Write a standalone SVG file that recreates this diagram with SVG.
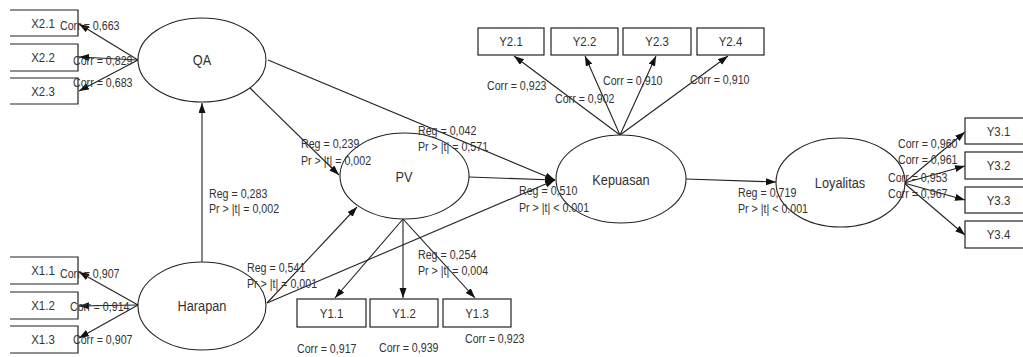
<svg xmlns="http://www.w3.org/2000/svg" width="1023" height="357" viewBox="0 0 1023 357">
<style>
.bx{fill:#fff;stroke:#222;stroke-width:1.2}
.el{fill:#fff;stroke:#222;stroke-width:1.1}
.ln{stroke:#222;stroke-width:1.1;fill:none;marker-end:url(#ah)}
text{font-family:"Liberation Sans",Arial,sans-serif;fill:#333;transform-box:fill-box}
.t{font-size:13px;transform-origin:0% 50%;transform:scaleX(0.82)}
.bt{font-size:13px;text-anchor:middle;transform-origin:50% 50%;transform:scaleX(0.88)}
.et{font-size:15px;text-anchor:middle;transform-origin:50% 50%;transform:scaleX(0.85)}
</style>
<defs>
<marker id="ah" markerUnits="userSpaceOnUse" markerWidth="11" markerHeight="8" refX="10" refY="3.5" orient="auto">
<path d="M0,0 L10,3.5 L0,7 z" fill="#111"/>
</marker>
</defs>
<rect width="1023" height="357" fill="#fff"/>
<g id="connectors">
<line class="ln" x1="138" y1="60" x2="79" y2="24"/>
<line class="ln" x1="138" y1="60" x2="79" y2="57"/>
<line class="ln" x1="138" y1="60" x2="79" y2="91"/>
<line class="ln" x1="138" y1="305" x2="79" y2="272"/>
<line class="ln" x1="138" y1="305" x2="79" y2="306"/>
<line class="ln" x1="138" y1="305" x2="79" y2="338"/>
<line class="ln" x1="202" y1="262" x2="202" y2="103"/>
<line class="ln" x1="250" y1="88" x2="339" y2="175"/>
<line class="ln" x1="268" y1="60" x2="555" y2="180"/>
<line class="ln" x1="267" y1="303" x2="357" y2="207"/>
<line class="ln" x1="267" y1="303" x2="555" y2="180"/>
<line class="ln" x1="469" y1="177" x2="555" y2="180"/>
<line class="ln" x1="403" y1="219" x2="335" y2="298"/>
<line class="ln" x1="403" y1="219" x2="403" y2="298"/>
<line class="ln" x1="403" y1="219" x2="475" y2="298"/>
<line class="ln" x1="620" y1="135" x2="514" y2="56"/>
<line class="ln" x1="620" y1="135" x2="585" y2="56"/>
<line class="ln" x1="620" y1="135" x2="656" y2="56"/>
<line class="ln" x1="620" y1="135" x2="728" y2="56"/>
<line class="ln" x1="686" y1="179" x2="776" y2="182"/>
<line class="ln" x1="904" y1="183" x2="965" y2="132"/>
<line class="ln" x1="904" y1="183" x2="965" y2="166"/>
<line class="ln" x1="904" y1="183" x2="965" y2="200"/>
<line class="ln" x1="904" y1="183" x2="965" y2="235"/>
</g>
<g id="X2.1"><path class="bx" d="M10,10 H78 V36 H10"/><text class="bt" x="43" y="28">X2.1</text></g>
<g id="X2.2"><path class="bx" d="M10,44 H78 V71 H10"/><text class="bt" x="43" y="62">X2.2</text></g>
<g id="X2.3"><path class="bx" d="M10,78 H78 V104 H10"/><text class="bt" x="43" y="96">X2.3</text></g>
<g id="X1.1"><path class="bx" d="M10,257 H78 V284 H10"/><text class="bt" x="43" y="275">X1.1</text></g>
<g id="X1.2"><path class="bx" d="M10,292 H78 V319 H10"/><text class="bt" x="43" y="310">X1.2</text></g>
<g id="X1.3"><path class="bx" d="M10,326 H78 V353 H10"/><text class="bt" x="43" y="344">X1.3</text></g>
<g id="QA"><ellipse class="el" cx="202" cy="60" rx="64" ry="42"/><text class="et" x="202" y="65">QA</text></g>
<g id="Harapan"><ellipse class="el" cx="202" cy="306" rx="64" ry="44"/><text class="et" x="202" y="311">Harapan</text></g>
<g id="PV"><ellipse class="el" cx="404.5" cy="176" rx="64.5" ry="43"/><text class="et" x="404" y="182">PV</text></g>
<g id="Kepuasan"><ellipse class="el" cx="621" cy="179" rx="65" ry="44"/><text class="et" x="621" y="185">Kepuasan</text></g>
<g id="Loyalitas"><ellipse class="el" cx="840.5" cy="182.5" rx="64.5" ry="44.5"/><text class="et" x="840" y="188">Loyalitas</text></g>
<g id="Y1.1"><rect class="bx" x="297" y="299" width="69" height="28"/><text class="bt" x="331.5" y="318">Y1.1</text></g>
<g id="Y1.2"><rect class="bx" x="370" y="299" width="68" height="28"/><text class="bt" x="404" y="318">Y1.2</text></g>
<g id="Y1.3"><rect class="bx" x="443" y="299" width="68" height="28"/><text class="bt" x="477" y="318">Y1.3</text></g>
<g id="Y2.1"><rect class="bx" x="478" y="28" width="66" height="27"/><text class="bt" x="511" y="46">Y2.1</text></g>
<g id="Y2.2"><rect class="bx" x="551" y="28" width="67" height="27"/><text class="bt" x="584.5" y="46">Y2.2</text></g>
<g id="Y2.3"><rect class="bx" x="623" y="28" width="68" height="27"/><text class="bt" x="657" y="46">Y2.3</text></g>
<g id="Y2.4"><rect class="bx" x="697" y="28" width="67" height="27"/><text class="bt" x="730.5" y="46">Y2.4</text></g>
<g id="Y3.1"><rect class="bx" x="965" y="118" width="67" height="26"/><text class="bt" x="998.5" y="136">Y3.1</text></g>
<g id="Y3.2"><rect class="bx" x="965" y="152" width="67" height="27"/><text class="bt" x="998.5" y="170">Y3.2</text></g>
<g id="Y3.3"><rect class="bx" x="965" y="187" width="67" height="26"/><text class="bt" x="998.5" y="205">Y3.3</text></g>
<g id="Y3.4"><rect class="bx" x="965" y="221" width="67" height="27"/><text class="bt" x="998.5" y="239">Y3.4</text></g>
<g id="labels">
<text class="t" x="60" y="30">Corr = 0,663</text>
<text class="t" x="73" y="65">Corr = 0,829</text>
<text class="t" x="73" y="87">Corr = 0,683</text>
<text class="t" x="60" y="278">Corr = 0,907</text>
<text class="t" x="70" y="311">Corr = 0,914</text>
<text class="t" x="73" y="344">Corr = 0,907</text>
<text class="t" x="209" y="198">Reg = 0,283</text>
<text class="t" x="209" y="213">Pr &gt; |t| = 0,002</text>
<text class="t" x="301" y="148">Reg = 0,239</text>
<text class="t" x="301" y="165">Pr &gt; |t| = 0,002</text>
<text class="t" x="418" y="135">Reg = 0,042</text>
<text class="t" x="418" y="151">Pr &gt; |t| = 0,571</text>
<text class="t" x="247" y="272">Reg = 0,541</text>
<text class="t" x="247" y="288">Pr &gt; |t| = 0,001</text>
<text class="t" x="418" y="259">Reg = 0,254</text>
<text class="t" x="418" y="275">Pr &gt; |t| = 0,004</text>
<text class="t" x="297" y="353">Corr = 0,917</text>
<text class="t" x="379" y="352">Corr = 0,939</text>
<text class="t" x="465" y="343">Corr = 0,923</text>
<text class="t" x="519" y="195">Reg = 0,510</text>
<text class="t" x="519" y="212">Pr &gt; |t| &lt; 0.001</text>
<text class="t" x="738" y="197">Reg = 0,719</text>
<text class="t" x="738" y="213">Pr &gt; |t| &lt; 0.001</text>
<text class="t" x="487" y="90">Corr = 0,923</text>
<text class="t" x="555" y="103">Corr = 0,902</text>
<text class="t" x="603" y="85">Corr = 0,910</text>
<text class="t" x="690" y="84">Corr = 0,910</text>
<text class="t" x="898" y="148">Corr = 0,960</text>
<text class="t" x="898" y="164">Corr = 0,961</text>
<text class="t" x="888" y="182">Corr = 0,953</text>
<text class="t" x="888" y="198">Corr = 0,967</text>
</g>
</svg>
